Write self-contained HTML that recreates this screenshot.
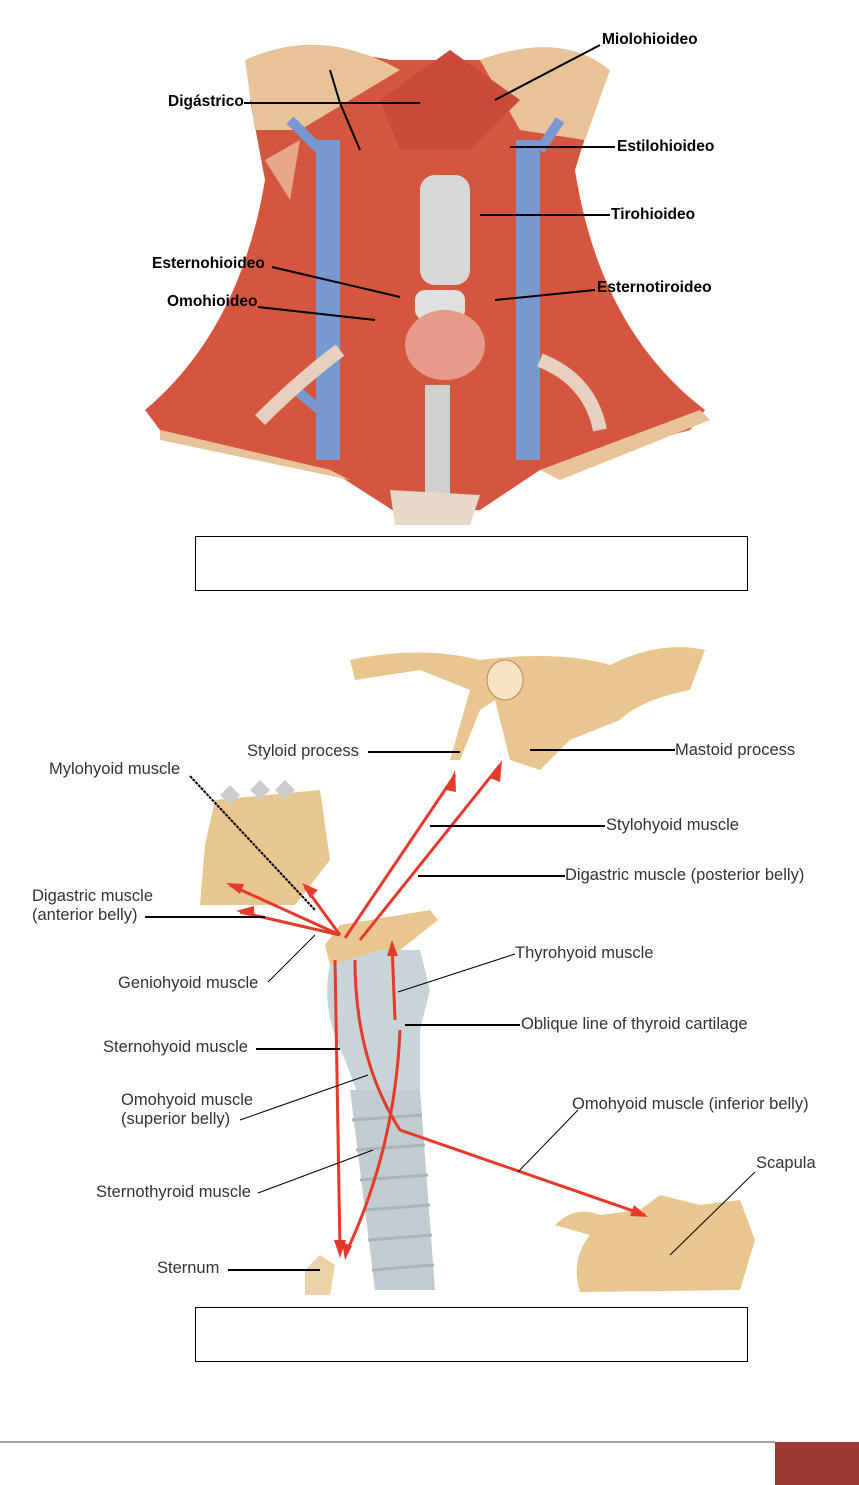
<!DOCTYPE html>
<html><head><meta charset="utf-8">
<style>
html,body{margin:0;padding:0;background:#fff;}
body{width:859px;height:1485px;position:relative;overflow:hidden;font-family:"Liberation Sans",sans-serif;}
.b{position:absolute;font-weight:bold;font-size:15.5px;color:#000;white-space:nowrap;}
.r{position:absolute;font-size:16.5px;color:#333;white-space:nowrap;line-height:19px;}
.box{position:absolute;border:1px solid #000;background:#fff;}
svg{position:absolute;left:0;top:0;}
</style></head><body>
<svg width="859" height="1485" viewBox="0 0 859 1485">
<path d="M250,100 Q300,40 390,60 L480,60 Q560,30 600,90 L575,170 Q600,330 705,410 L690,430 L540,470 L480,510 L400,515 L330,470 L160,430 L145,410 Q240,330 265,180 Z" fill="#d5563f"/>
<path d="M245,60 Q320,25 400,70 L300,130 L255,130 Z" fill="#e8c39a"/>
<path d="M480,60 Q560,30 610,70 L585,140 L520,130 Z" fill="#e8c39a"/>
<path d="M265,160 L300,140 L290,200 Z" fill="#e8a78a"/>
<path d="M380,100 L450,50 L520,100 L470,150 L400,150 Z" fill="#c94a39"/>
<rect x="420" y="175" width="50" height="110" rx="15" fill="#d8d8d8"/>
<rect x="415" y="290" width="50" height="30" rx="10" fill="#e0e0e0"/>
<ellipse cx="445" cy="345" rx="40" ry="35" fill="#e89a8a"/>
<rect x="425" y="385" width="25" height="110" fill="#d0d0d0"/>
<rect x="316" y="140" width="24" height="320" fill="#7a98d0"/>
<rect x="516" y="140" width="24" height="320" fill="#7a98d0"/>
<path d="M290,120 L320,150 M560,120 L540,150 M290,385 L320,410" stroke="#7a98d0" stroke-width="10" fill="none"/>
<path d="M340,350 Q300,380 260,420" stroke="#e8d0c0" stroke-width="14" fill="none"/>
<path d="M540,360 Q590,380 600,430" stroke="#e8d0c0" stroke-width="14" fill="none"/>
<path d="M390,490 L395,525 L470,525 L480,495 Z" fill="#e8d8c8"/>
<path d="M160,430 L330,470 L350,480 L160,440 Z M540,470 L700,410 L710,420 L560,480Z" fill="#e8c39a"/>
<g stroke="#000" stroke-width="2" fill="none">
<line x1="244" y1="103" x2="420" y2="103"/>
<path d="M340,103 L360,150 M340,103 L330,70"/>
<line x1="600" y1="45" x2="495" y2="100"/>
<line x1="615" y1="147" x2="510" y2="147"/>
<line x1="610" y1="215" x2="480" y2="215"/>
<line x1="272" y1="267" x2="400" y2="297"/>
<line x1="258" y1="307" x2="375" y2="320"/>
<line x1="595" y1="290" x2="495" y2="300"/>
</g>
<path d="M350,660 Q420,645 480,660 Q560,650 610,665 Q660,640 705,650 L690,690 Q640,700 620,720 L570,740 L540,770 L510,760 L495,700 L480,710 L460,760 L450,760 L470,690 L420,670 L355,680 Z" fill="#e9c690"/>
<ellipse cx="505" cy="680" rx="18" ry="20" fill="#f5e3c3" stroke="#b58a55"/>
<path d="M205,845 L215,800 L320,790 L330,860 L295,905 L200,905 Z" fill="#e8c690"/>
<path d="M225,800 L235,790 M255,795 L265,785 M280,795 L290,785" stroke="#ccc" stroke-width="14"/>
<path d="M325,945 L340,925 L430,910 L438,920 L400,950 L330,965 Z" fill="#e9c690"/>
<path d="M330,965 Q320,1010 345,1060 L360,1100 L420,1090 L420,1030 L430,990 L420,950 L380,950 Z" fill="#c8d4d8"/>
<path d="M350,1090 L375,1290 L435,1290 L420,1090 Z" fill="#c0ccd0"/>
<g stroke="#a8b4b8" stroke-width="3"><line x1="352" y1="1120" x2="422" y2="1115"/><line x1="356" y1="1150" x2="425" y2="1145"/><line x1="360" y1="1180" x2="428" y2="1175"/><line x1="364" y1="1210" x2="430" y2="1205"/><line x1="368" y1="1240" x2="432" y2="1235"/><line x1="372" y1="1270" x2="434" y2="1265"/></g>
<path d="M305,1270 L320,1255 L335,1265 L330,1295 L305,1295 Z" fill="#ecd2a8"/>
<path d="M555,1225 Q575,1205 600,1215 L640,1210 L660,1195 L700,1205 L740,1200 L755,1240 L740,1290 L580,1292 Q570,1260 590,1235 Z" fill="#e9c690"/>
<g stroke="#e5392b" stroke-width="3" fill="none">
<line x1="345" y1="938" x2="455" y2="775"/>
<line x1="360" y1="940" x2="500" y2="765"/>
<line x1="340" y1="935" x2="230" y2="885"/>
<line x1="340" y1="935" x2="305" y2="887"/>
<line x1="340" y1="935" x2="240" y2="912"/>
<line x1="335" y1="960" x2="340" y2="1250"/>
<path d="M355,960 Q355,1060 400,1130 L645,1215"/>
<path d="M400,1030 Q395,1150 345,1255"/>
<line x1="395" y1="1020" x2="392" y2="945"/>
</g>
<g fill="#e5392b">
<polygon points="455,770 446,790 456,792"/>
<polygon points="502,760 490,778 500,782"/>
<polygon points="226,883 244,884 240,894"/>
<polygon points="302,883 318,890 310,898"/>
<polygon points="236,911 254,906 254,916"/>
<polygon points="340,1258 334,1240 346,1240"/>
<polygon points="648,1217 630,1216 634,1205"/>
<polygon points="345,1260 342,1242 352,1246"/>
<polygon points="392,940 387,956 398,956"/>
</g>
<g stroke="#000" stroke-width="2" fill="none">
<line x1="368" y1="752" x2="460" y2="752"/>
<line x1="675" y1="750" x2="530" y2="750"/>
<line x1="190" y1="776" x2="315" y2="910" stroke-dasharray="3,1"/>
<line x1="605" y1="826" x2="430" y2="826"/>
<line x1="565" y1="876" x2="418" y2="876"/>
<line x1="145" y1="917" x2="265" y2="917"/>
<line x1="268" y1="982" x2="315" y2="935" stroke-width="1"/>
<line x1="515" y1="954" x2="398" y2="992" stroke-width="1"/>
<line x1="520" y1="1025" x2="405" y2="1025"/>
<line x1="256" y1="1049" x2="340" y2="1049"/>
<line x1="240" y1="1120" x2="368" y2="1075" stroke-width="1"/>
<line x1="578" y1="1110" x2="518" y2="1172" stroke-width="1"/>
<line x1="258" y1="1193" x2="373" y2="1150" stroke-width="1"/>
<line x1="755" y1="1172" x2="670" y2="1255" stroke-width="1"/>
<line x1="228" y1="1270" x2="320" y2="1270"/>
</g>
<line x1="0" y1="1442" x2="775" y2="1442" stroke="#444" stroke-width="1"/>
<rect x="775" y="1442" width="84" height="43" fill="#9b3a34"/>
</svg>

<div class="b" style="left:168px;top:93px">Digástrico</div>
<div class="b" style="left:602px;top:31px">Miolohioideo</div>
<div class="b" style="left:617px;top:138px">Estilohioideo</div>
<div class="b" style="left:611px;top:206px">Tirohioideo</div>
<div class="b" style="left:152px;top:255px">Esternohioideo</div>
<div class="b" style="left:167px;top:293px">Omohioideo</div>
<div class="b" style="left:597px;top:279px">Esternotiroideo</div>

<div class="box" style="left:195px;top:536px;width:551px;height:53px"></div>
<div class="box" style="left:195px;top:1307px;width:551px;height:53px"></div>

<div class="r" style="left:247px;top:742px">Styloid process</div>
<div class="r" style="left:675px;top:741px">Mastoid process</div>
<div class="r" style="left:49px;top:760px">Mylohyoid muscle</div>
<div class="r" style="left:606px;top:816px">Stylohyoid muscle</div>
<div class="r" style="left:565px;top:866px">Digastric muscle (posterior belly)</div>
<div class="r" style="left:32px;top:887px">Digastric muscle<br>(anterior belly)</div>
<div class="r" style="left:515px;top:944px">Thyrohyoid muscle</div>
<div class="r" style="left:118px;top:974px">Geniohyoid muscle</div>
<div class="r" style="left:521px;top:1015px">Oblique line of thyroid cartilage</div>
<div class="r" style="left:103px;top:1038px">Sternohyoid muscle</div>
<div class="r" style="left:121px;top:1091px">Omohyoid muscle<br>(superior belly)</div>
<div class="r" style="left:572px;top:1095px">Omohyoid muscle (inferior belly)</div>
<div class="r" style="left:756px;top:1154px">Scapula</div>
<div class="r" style="left:96px;top:1183px">Sternothyroid muscle</div>
<div class="r" style="left:157px;top:1259px">Sternum</div>
</body></html>
